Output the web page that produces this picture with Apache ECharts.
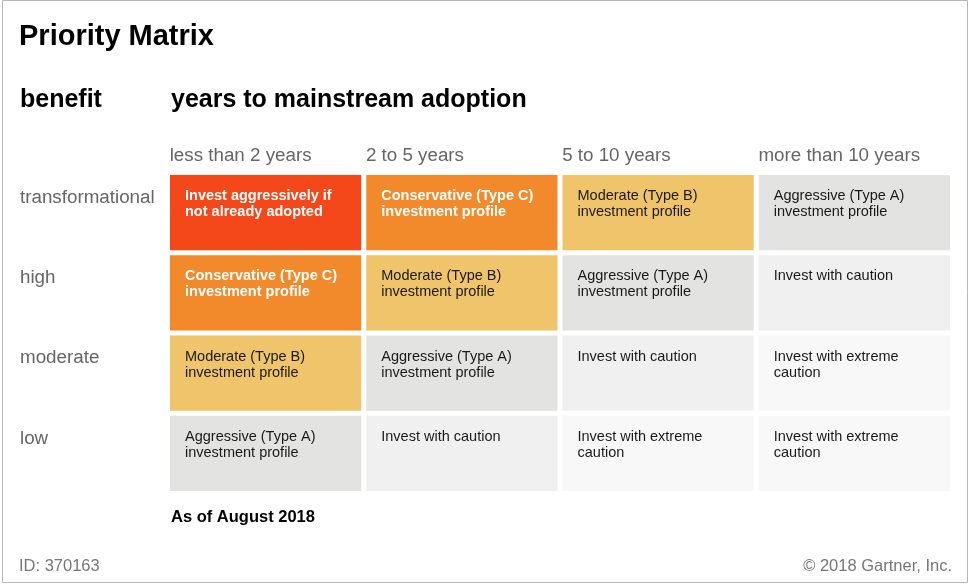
<!DOCTYPE html>
<html>
<head>
<meta charset="utf-8">
<script src="https://cdn.jsdelivr.net/npm/echarts@6/dist/echarts.min.js"></script>
<style>
html,body{margin:0;padding:0;background:#fff;}
#c{width:970px;height:586px;}
</style>
</head>
<body>
<div id="c"></div>
<script>
// ---- data ----
const adoptionYears = ['less than 2 years', '2 to 5 years', '5 to 10 years', 'more than 10 years'];
const benefitLevels = ['transformational', 'high', 'moderate', 'low'];
const adviceTexts = [
  'Invest aggressively if\nnot already adopted',
  'Conservative (Type C)\ninvestment profile',
  'Moderate (Type B)\ninvestment profile',
  'Aggressive (Type A)\ninvestment profile',
  'Invest with caution',
  'Invest with extreme\ncaution'
];
// advice index per benefit row (transformational..low) x adoption column
const transformationalRow = [0, 1, 2, 3];
const highRow = [1, 2, 3, 4];
const moderateRow = [2, 3, 4, 5];
const lowRow = [3, 4, 5, 5];
const matrixRows = [transformationalRow, highRow, moderateRow, lowRow];

// ---- styles ----
const FONT = '"Liberation Sans", Arial, sans-serif';
const cellFill = ['#F4471A', '#F28A2B', '#F0C46B', '#E3E3E1', '#F0F0F0', '#F8F8F8'];
const cellTextColor = ['#ffffff', '#ffffff', '#1a1a1a', '#1a1a1a', '#1a1a1a', '#1a1a1a'];
const cellTextBold = [true, true, false, false, false, false];

const cellData = [];
matrixRows.forEach((row, yi) => {
  row.forEach((lvl, xi) => cellData.push([xi, yi, lvl]));
});

const chart = echarts.init(document.getElementById('c'), null, {renderer: 'canvas'});
const GAP = 5;

chart.setOption({
  animation: false,
  grid: {left: 167.5, right: 17.5, top: 172.5, bottom: 92.5, containLabel: false},
  xAxis: {
    type: 'category',
    position: 'top',
    data: adoptionYears,
    axisLine: {show: false},
    axisTick: {show: false},
    splitLine: {show: false},
    axisLabel: {
      interval: 0,
      margin: 7,
      align: 'center',
      formatter: v => '{a|' + v + '}',
      rich: {
        a: {width: 192, align: 'left', fontSize: 18.8, color: '#666666', fontFamily: FONT}
      }
    }
  },
  yAxis: {
    type: 'category',
    inverse: true,
    data: benefitLevels,
    axisLine: {show: false},
    axisTick: {show: false},
    splitLine: {show: false},
    axisLabel: {
      interval: 0,
      align: 'left',
      margin: 147.5,
      formatter: v => '{a|' + v + '}',
      rich: {
        a: {fontSize: 18.8, color: '#666666', fontFamily: FONT, padding: [0, 0, 30, 0]}
      }
    }
  },
  graphic: [
    {type: 'rect', silent: true, shape: {x: 2.5, y: 0.5, width: 965, height: 582},
      style: {fill: 'none', stroke: '#b8b8b8', lineWidth: 1}},
    {type: 'text', x: 19, y: 37, style: {text: 'Priority Matrix', fill: '#000', font: 'bold 29px ' + FONT, verticalAlign: 'middle'}},
    {type: 'text', x: 20, y: 100, style: {text: 'benefit', fill: '#000', font: 'bold 25px ' + FONT, verticalAlign: 'middle'}},
    {type: 'text', x: 171, y: 100, style: {text: 'years to mainstream adoption', fill: '#000', font: 'bold 25px ' + FONT, verticalAlign: 'middle'}},
    {type: 'text', x: 171, y: 517, style: {text: 'As of August 2018', fill: '#000', font: 'bold 16.5px ' + FONT, verticalAlign: 'middle'}},
    {type: 'text', x: 19, y: 566, style: {text: 'ID: 370163', fill: '#777', font: '16.5px ' + FONT, verticalAlign: 'middle'}},
    {type: 'text', x: 952, y: 566, style: {text: '\u00A9 2018 Gartner, Inc.', fill: '#777', font: '16.5px ' + FONT, verticalAlign: 'middle', align: 'right'}}
  ],
  series: [{
    type: 'custom',
    coordinateSystem: 'cartesian2d',
    data: cellData,
    encode: {x: 0, y: 1},
    renderItem: function (params, api) {
      const lvl = api.value(2);
      const p = api.coord([api.value(0), api.value(1)]);
      const s = api.size([1, 1]);
      const w = s[0] - GAP, h = s[1] - GAP;
      const x0 = p[0] - w / 2, y0 = p[1] - h / 2;
      return {
        type: 'group',
        children: [
          {type: 'rect', shape: {x: x0, y: y0, width: w, height: h}, style: {fill: cellFill[lvl]}},
          {type: 'text', x: x0 + 15, y: y0 + 13, style: {
            text: adviceTexts[lvl],
            fill: cellTextColor[lvl],
            font: (cellTextBold[lvl] ? 'bold ' : '') + '14.5px ' + FONT,
            lineHeight: 16,
            verticalAlign: 'top'
          }}
        ]
      };
    }
  }]
});
</script>
</body>
</html>
